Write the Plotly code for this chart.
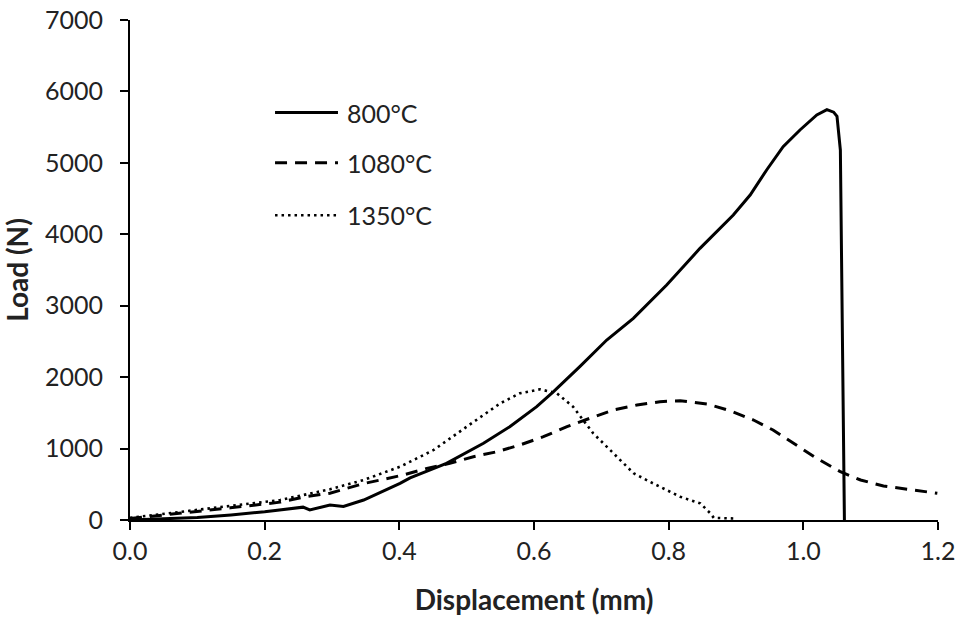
import plotly.graph_objects as go

# 800°C (solid)
x800 = [0, 0.05, 0.10, 0.15, 0.20, 0.257, 0.267, 0.297, 0.317, 0.347, 0.376, 0.401, 0.416,
        0.47, 0.525, 0.564, 0.604, 0.629, 0.668, 0.708, 0.7475, 0.797, 0.8465, 0.896,
        0.921, 0.9455, 0.970, 0.995, 1.020, 1.035, 1.045, 1.050, 1.055, 1.058, 1.061]
y800 = [0, 20, 35, 70, 115, 180, 140, 210, 190, 280, 400, 514, 590,
        794, 1074, 1306, 1586, 1796, 2146, 2520, 2823, 3290, 3803, 4270,
        4550, 4900, 5226, 5460, 5670, 5745, 5710, 5650, 5180, 2500, 0]

# 1080°C (dashed)
x1080 = [0, 0.074, 0.149, 0.223, 0.262, 0.297, 0.347, 0.406, 0.441, 0.475, 0.510, 0.545,
         0.579, 0.614, 0.649, 0.683, 0.718, 0.753, 0.787, 0.817, 0.857, 0.891, 0.926,
         0.955, 0.985, 1.020, 1.055, 1.085, 1.119, 1.154, 1.199]
y1080 = [20, 90, 170, 250, 330, 375, 510, 630, 723, 794, 886, 956,
         1050, 1166, 1306, 1424, 1540, 1610, 1656, 1670, 1624, 1530, 1400,
         1260, 1073, 863, 676, 560, 476, 430, 374]

# 1350°C (dotted)
x1350 = [0, 0.074, 0.149, 0.223, 0.297, 0.347, 0.401, 0.451, 0.50, 0.55, 0.579, 0.609,
         0.634, 0.658, 0.688, 0.718, 0.748, 0.772, 0.787, 0.817, 0.847, 0.862, 0.867, 0.899]
y1350 = [30, 110, 190, 280, 430, 560, 746, 980, 1306, 1634, 1774, 1830,
         1774, 1586, 1213, 934, 654, 536, 466, 326, 233, 93, 30, 20]

series_names = ["800°C", "1080°C", "1350°C"]
x_ticks = [0.0, 0.2, 0.4, 0.6, 0.8, 1.0, 1.2]
x_tick_labels = ["0.0", "0.2", "0.4", "0.6", "0.8", "1.0", "1.2"]
y_ticks = [0, 1000, 2000, 3000, 4000, 5000, 6000, 7000]

FONT = "Lato"
dashes = ["solid", "12px,8px", "2.5px,4px"]
widths = [3, 3, 2.6]

fig = go.Figure()
for xs, ys, name, d, w in zip([x800, x1080, x1350], [y800, y1080, y1350],
                              series_names, dashes, widths):
    fig.add_trace(go.Scatter(x=xs, y=ys, mode="lines", name=name,
                             line=dict(color="black", width=w, dash=d),
                             showlegend=False))

# manual legend (inside plot area, top-left)
leg_y = [0.8148, 0.7147, 0.6096]
for name, d, w, yy in zip(series_names, dashes, widths, leg_y):
    fig.add_shape(type="line", xref="paper", yref="paper", x0=0.1795, x1=0.2574,
                  y0=yy, y1=yy, line=dict(color="black", width=w, dash=d))
    fig.add_annotation(xref="paper", yref="paper", x=0.2661, y=yy, text=name,
                       showarrow=False, xanchor="left", yanchor="middle",
                       font=dict(family=FONT, size=25, color="#222"))

fig.update_layout(
    width=962, height=619,
    margin=dict(l=130, r=24, t=20, b=99, autoexpand=False),
    paper_bgcolor="white", plot_bgcolor="white",
    font=dict(family=FONT, size=25, color="#222"),
)
fig.update_xaxes(range=[0, 1.2], tickvals=x_ticks, ticktext=x_tick_labels,
                 showgrid=False, zeroline=False, showline=True, linecolor="black",
                 linewidth=2, ticks="outside", ticklen=8, tickwidth=2, tickcolor="black",
                 automargin=False, ticklabeloverflow="allow",
                 title=dict(text="<b>Displacement (mm)</b>", font=dict(family=FONT, size=28),
                            standoff=26),
                 tickfont=dict(family=FONT, size=25, color="#222"))
fig.update_yaxes(range=[0, 7000], tickvals=y_ticks,
                 showgrid=False, zeroline=False, showline=True, linecolor="black",
                 linewidth=2, ticks="outside", ticklen=8, tickwidth=2, tickcolor="black",
                 ticklabelstandoff=12, automargin=False, ticklabeloverflow="allow",
                 title=dict(text="<b>Load (N)</b>", font=dict(family=FONT, size=28),
                            standoff=20),
                 tickfont=dict(family=FONT, size=25, color="#222"))

# remove the browser's default 8px body margin so the figure fills the window
fig.write_html("out.html", config={"displayModeBar": False},
               post_script="document.body.style.margin='0';document.body.style.overflow='hidden';")
